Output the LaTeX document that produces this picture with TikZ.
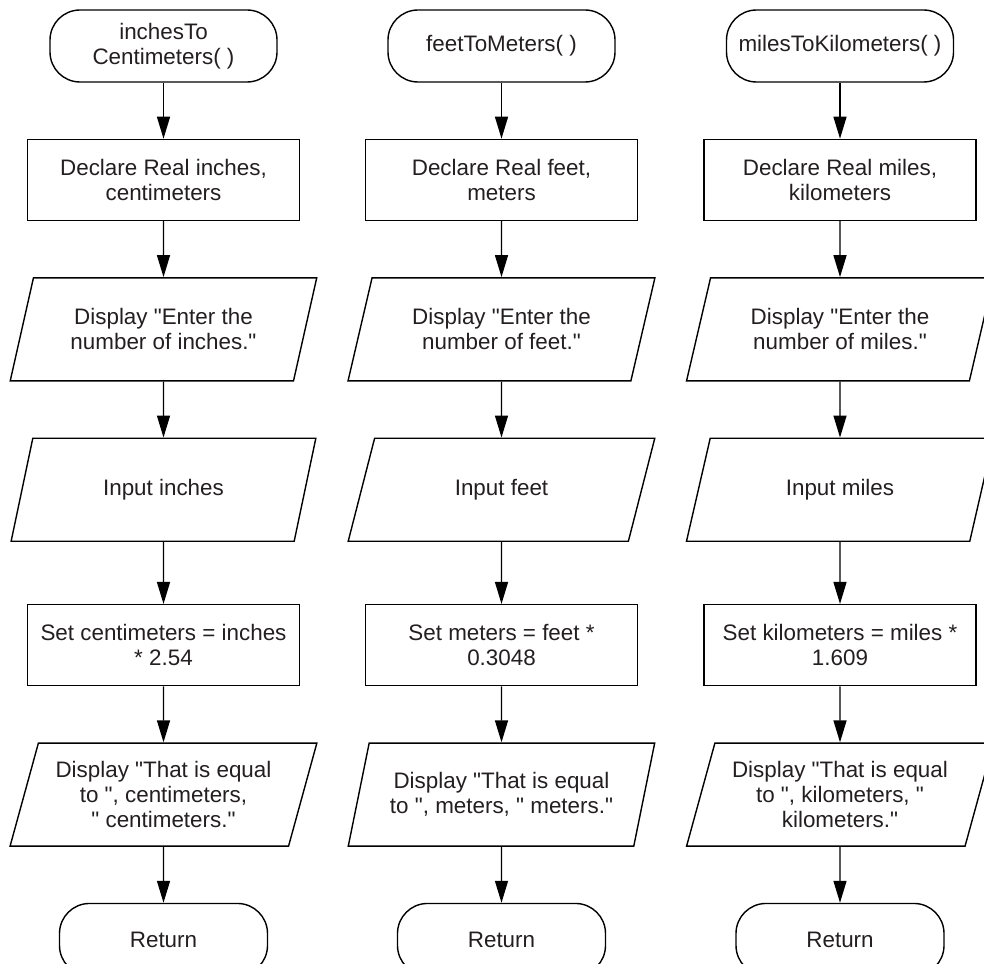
\documentclass[tikz,border=0pt]{standalone}
\usepackage{fontspec}
\setmainfont{Liberation Sans}[Ligatures=TeXOff]
\usetikzlibrary{positioning,arrows.meta,shapes.geometric}
\definecolor{ink}{HTML}{231F20}

\begin{document}
\begin{tikzpicture}[
    x=0.5pt, y=-0.5pt,
    node distance=28pt,
    line width=0.7pt,
    every node/.style={
        text=ink,
        font=\fontsize{11.2}{12.5}\selectfont
    },
    terminal/.style={
        draw,
        rounded corners=15pt,
        minimum width=113.5pt,
        minimum height=36pt,
        align=center
    },
    endbox/.style={
        terminal,
        minimum width=104pt
    },
    process/.style={
        draw,
        minimum width=136pt,
        minimum height=40.5pt,
        align=center
    },
    io/.style={
        draw,
        trapezium,
        trapezium left angle=72,
        trapezium right angle=108,
        trapezium stretches=true,
        minimum width=153.5pt,
        minimum height=51.5pt,
        align=center
    },
    arrow/.style={-{Triangle[length=11pt,width=6.5pt]}}
]
\useasboundingbox (0,0) rectangle (984,963);

% inches to centimeters
\node[terminal] (start1) at (163.5,46) {inchesTo\\Centimeters( )};
\node[process, below=of start1] (decl1) {Declare Real inches,\\centimeters};
\node[io, below=of decl1] (ask1) {Display "Enter the\\number of inches."};
\node[io, below=of ask1] (in1) {Input inches};
\node[process, below=31pt of in1] (calc1) {Set centimeters = inches\\{*} 2.54};
\node[io, below=of calc1] (show1) {Display "That is equal\\to ", centimeters,\\" centimeters."};
\node[endbox, below=of show1] (ret1) {Return};

% feet to meters
\node[terminal] (start2) at (501.5,46) {feetToMeters( )};
\node[process, below=of start2] (decl2) {Declare Real feet,\\meters};
\node[io, below=of decl2] (ask2) {Display "Enter the\\number of feet."};
\node[io, below=of ask2] (in2) {Input feet};
\node[process, below=31pt of in2] (calc2) {Set meters = feet *\\0.3048};
\node[io, below=of calc2] (show2) {Display "That is equal\\to ", meters, " meters."};
\node[endbox, below=of show2] (ret2) {Return};

% miles to kilometers
\node[terminal] (start3) at (840,46) {milesToKilometers( )};
\node[process, below=of start3] (decl3) {Declare Real miles,\\kilometers};
\node[io, below=of decl3] (ask3) {Display "Enter the\\number of miles."};
\node[io, below=of ask3] (in3) {Input miles};
\node[process, below=31pt of in3] (calc3) {Set kilometers = miles *\\1.609};
\node[io, below=of calc3] (show3) {Display "That is equal\\to ", kilometers, "\\kilometers."};
\node[endbox, below=of show3] (ret3) {Return};

\draw[arrow] (start1) -- (decl1);
\draw[arrow] (decl1) -- (ask1);
\draw[arrow] (ask1) -- (in1);
\draw[arrow] (in1) -- (calc1);
\draw[arrow] (calc1) -- (show1);
\draw[arrow] (show1) -- (ret1);

\draw[arrow] (start2) -- (decl2);
\draw[arrow] (decl2) -- (ask2);
\draw[arrow] (ask2) -- (in2);
\draw[arrow] (in2) -- (calc2);
\draw[arrow] (calc2) -- (show2);
\draw[arrow] (show2) -- (ret2);

\draw[arrow] (start3) -- (decl3);
\draw[arrow] (decl3) -- (ask3);
\draw[arrow] (ask3) -- (in3);
\draw[arrow] (in3) -- (calc3);
\draw[arrow] (calc3) -- (show3);
\draw[arrow] (show3) -- (ret3);

\end{tikzpicture}
\end{document}
